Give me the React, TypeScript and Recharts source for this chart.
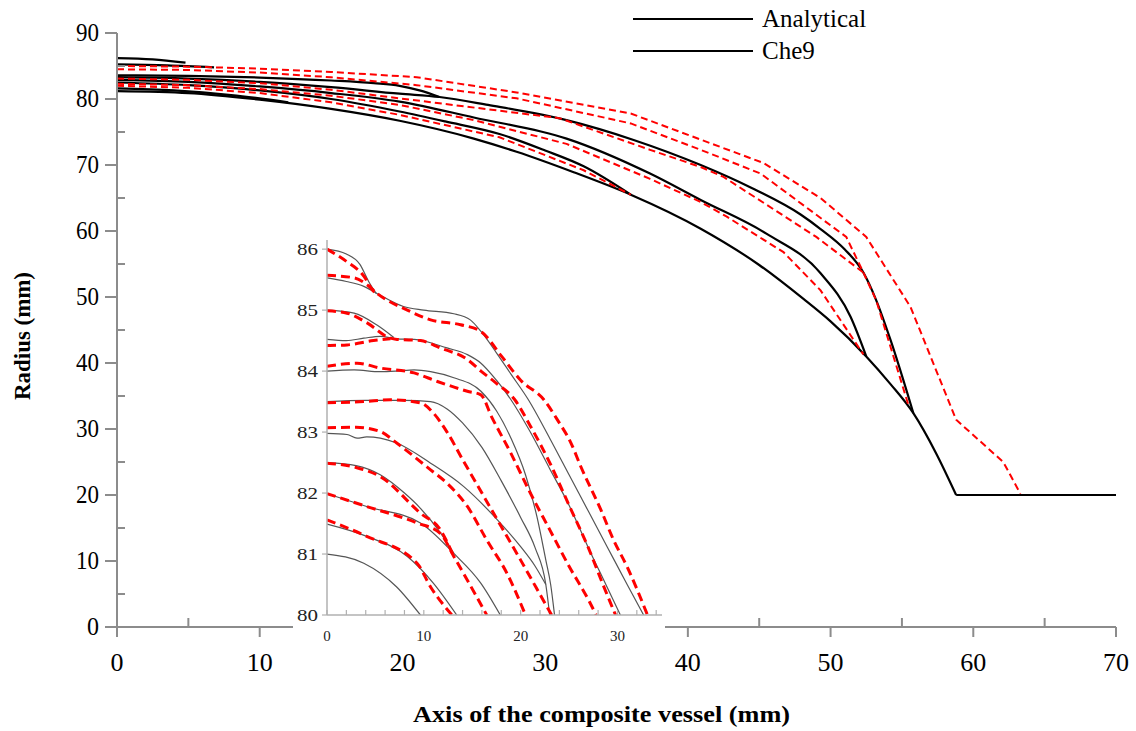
import React from 'react';
import { LineChart, Line, XAxis, YAxis, Legend } from 'recharts';

type P = [number, number];

// ---------- main chart data (axial position mm, radius mm) ----------
const anaTop1: P[] = [[0, 86.2], [2.5, 86.0], [4.8, 85.5]];
const anaTop2: P[] = [[0, 85.25], [3.5, 85.1], [6.8, 84.8]];
const anaA1: P[] = [[0, 83.6], [5, 83.5], [10, 83.25], [15, 82.8], [18, 82.4], [19.8, 82.0], [21.2, 81.3], [22.6, 80.3]];
const anaA2: P[] = [[0, 83.3], [5, 83.1], [10, 82.6], [15, 81.8], [19.8, 80.8], [22.6, 80.3], [26, 79.1], [31.5, 76.8], [36.2, 73.8], [40.9, 70.0], [44.4, 66.6], [47.9, 62.5], [49.3, 60.3], [51, 57.2], [52.3, 53.7], [53.2, 49.5], [54.2, 43.5], [55.8, 32.4]];
const anaB: P[] = [[0, 82.9], [5, 82.6], [10, 81.9], [15, 80.9], [19.8, 79.6], [25, 77.2], [31.5, 74.0], [37.35, 68.7], [40.9, 64.7], [45.5, 59.6], [49.3, 53.6], [51.4, 47.0], [52.5, 41.0]];
const anaC: P[] = [[0, 82.5], [5, 82.1], [10, 81.3], [15, 80.0], [19.8, 78.1], [23, 76.6], [26.8, 74.7], [30, 72.2], [32.7, 69.8], [36, 65.5]];
const anaE: P[] = [[0, 81.6], [4, 81.3], [8, 80.6], [12, 79.5]];
const anaMandrel: P[] = [[0, 81.2], [5, 80.9], [10, 79.9], [15, 78.5], [19.8, 76.7], [25, 74.0], [28, 72.0], [32, 68.9], [36, 65.5], [40.9, 60.35], [45, 54.85], [48.1, 49.7], [50, 46.3], [52.5, 41.0], [54.2, 36.8], [55.8, 32.4], [57.4, 26.3], [58.8, 20.0]];
const anaBoss: P[] = [[58.8, 20], [70, 20]];

const cheR1: P[] = [[0, 85.0], [5, 84.9], [10, 84.6], [15, 84.1], [21, 83.3], [28, 81.0], [36, 77.8], [45.3, 70.3], [49.3, 65.0], [52.5, 59.1], [55.6, 48.5], [58.8, 31.4], [62.1, 25.0], [63.3, 20.2]];
const cheR2: P[] = [[0, 84.5], [5, 84.4], [10, 84.0], [15, 83.3], [21, 82.1], [28, 80.1], [36, 76.3], [40.9, 72.3], [45.1, 68.7], [51.1, 59.1], [52.3, 53.7], [53.2, 49.5], [55.5, 33.3]];
const cheR3: P[] = [[0, 83.1], [5, 82.9], [10, 82.4], [15, 81.4], [19.8, 80.1], [31, 77.1], [37.35, 72.3], [40.9, 69.7], [42.5, 68.2], [49.0, 59.1], [52.3, 53.7]];
const cheR4: P[] = [[0, 82.3], [5, 82.1], [10, 81.5], [15, 80.5], [19.8, 79.1], [25, 76.8], [31.5, 73.2], [37.35, 67.9], [40.9, 64.4], [42.7, 62.2], [46.7, 56.8], [49.3, 51.0], [52.3, 41.3]];
const cheR5: P[] = [[0, 82.0], [5, 81.7], [10, 80.9], [15, 79.5], [19.8, 77.6], [26.8, 74.2], [32.7, 69.2], [36, 65.5]];

const mainXTicks = [0, 5, 10, 15, 20, 25, 30, 35, 40, 45, 50, 55, 60, 65, 70];
const mainYTicks = [0, 5, 10, 15, 20, 25, 30, 35, 40, 45, 50, 55, 60, 65, 70, 75, 80, 85, 90];

// ---------- inset data (zoomed region) ----------
const inK1: P[] = [[0, 86.0], [2, 85.92], [3.4, 85.75], [4.3, 85.47], [5.1, 85.27]];
const inK2: P[] = [[0, 85.53], [2, 85.47], [3.8, 85.39], [5.2, 85.27], [7.9, 85.06], [10, 85.0], [13.1, 84.94], [14.8, 84.84], [15.9, 84.65], [17.5, 84.3], [19, 83.95], [20.8, 83.53], [23, 82.9], [25, 82.3], [27, 81.7], [29, 81.1], [31, 80.5], [32.7, 80]];
const inK3: P[] = [[0, 85.0], [2.8, 84.95], [5.2, 84.75], [6.9, 84.55]];
const inK4: P[] = [[0, 84.52], [2, 84.5], [3.8, 84.54], [5.5, 84.57], [7.2, 84.53], [9, 84.52], [12.4, 84.38], [14.5, 84.27], [15.9, 84.13], [17.5, 83.85], [19, 83.53], [21, 83.0], [23, 82.4], [25, 81.8], [27, 81.1], [28.8, 80.5], [30.3, 80]];
const inK5: P[] = [[0, 84.0], [2.8, 84.02], [5.5, 83.99], [7.2, 84.0], [9, 84.02], [10.7, 83.99], [13.1, 83.89], [15.9, 83.67], [17.5, 83.35], [19, 82.9], [20.5, 82.3], [21.7, 81.6], [22.6, 80.9], [23.1, 80.5], [23.5, 80]];
const inK6: P[] = [[0, 83.5], [4, 83.52], [8, 83.52], [10.7, 83.5], [12.4, 83.38], [14, 83.15], [16, 82.75], [18, 82.2], [20, 81.6], [21.5, 81.1], [22.6, 80.5], [23.0, 80]];
const inK7: P[] = [[0, 82.98], [2.07, 82.96], [3.1, 82.9], [4.1, 82.92], [5.5, 82.9], [7.2, 82.82], [10.7, 82.49], [14.1, 82.11], [17.6, 81.56], [20.0, 81.12], [21.5, 80.8], [22.6, 80.5]];
const inK8: P[] = [[0, 82.5], [3, 82.45], [5.5, 82.3], [8, 82.0], [9.65, 81.75], [11.7, 81.35], [13.1, 81.01]];
const inK9: P[] = [[0, 81.99], [4.1, 81.78], [9.65, 81.51], [13.1, 81.01], [15.9, 80.52], [17.9, 80]];
const inK10: P[] = [[0, 81.49], [4.1, 81.29], [8.3, 80.96], [11.0, 80.52], [13.4, 80]];
const inK11: P[] = [[0, 81.0], [3.8, 80.85], [7.2, 80.46], [9.65, 80]];

const inR1: P[] = [[0, 86.0], [2, 85.8], [3.8, 85.56], [4.8, 85.31], [5.2, 85.27]];
const inR2: P[] = [[0, 85.57], [2.8, 85.53], [4.1, 85.42], [5.2, 85.27], [8.3, 85.0], [10.7, 84.84], [13.8, 84.76], [15.9, 84.65], [18, 84.25], [20, 83.85], [22.4, 83.53], [23.8, 83.2], [25.2, 82.82], [26.2, 82.44], [28.3, 81.72], [29.6, 81.23], [31.0, 80.79], [33.1, 80]];
const inR3: P[] = [[0, 84.99], [2.07, 84.95], [4.14, 84.79], [6.55, 84.54], [7.24, 84.52], [9.65, 84.5], [11.7, 84.38], [14.5, 84.19], [15.9, 84.0], [17.5, 83.8], [19.4, 83.53], [21, 83.1], [23, 82.5], [25, 81.8], [27, 81.1], [28.5, 80.5], [29.8, 80]];
const inR4: P[] = [[0, 84.42], [2.07, 84.43], [4.8, 84.5], [6.55, 84.53]];
const inR5: P[] = [[0, 84.08], [3.1, 84.13], [5.5, 84.05], [9.0, 83.97], [11.4, 83.83], [14.5, 83.67], [15.9, 83.61], [17, 83.25], [19, 82.65], [21, 82.0], [23, 81.4], [25, 80.8], [27, 80.25], [27.8, 80]];
const inR6: P[] = [[0, 83.48], [3.8, 83.5], [6.55, 83.53], [9.65, 83.48], [11.0, 83.31], [12.4, 83.0], [14, 82.55], [16, 82.0], [18, 81.45], [20, 80.9], [21.6, 80.45], [23.2, 80]];
const inR7: P[] = [[0, 83.07], [3, 83.08], [5.5, 83.01], [7.2, 82.82], [10.7, 82.38], [12.4, 82.16], [14.5, 81.78], [16.5, 81.23], [18.6, 80.68], [20.5, 80]];
const inR8: P[] = [[0, 82.49], [3, 82.42], [5.5, 82.27], [9.65, 81.67], [11.7, 81.40], [13.1, 80.96]];
const inR9: P[] = [[0, 81.99], [4.1, 81.78], [9.3, 81.51], [11.7, 81.34], [13.1, 80.96], [14.5, 80.57], [16.5, 80]];
const inR10: P[] = [[0, 81.56], [4.1, 81.29], [9.3, 80.85], [10.7, 80.46], [12.9, 80]];

const insetXTicks = [0, 2, 4, 6, 8, 10, 12, 14, 16, 18, 20, 22, 24, 26, 28, 30, 32, 34];
const insetXLabels = [0, 10, 20, 30];
const insetYTicks = [80, 81, 82, 83, 84, 85, 86];

const legendItems = ['Analytical', 'Che9'];
const xTitle = 'Axis of the composite vessel (mm)';
const yTitle = 'Radius (mm)';

const toData = (pts: P[]) => pts.map(([x, y]) => ({ x, y }));

const mainBlack = [anaTop1, anaTop2, anaA1, anaA2, anaB, anaC, anaE, anaMandrel, anaBoss];
const mainRed = [cheR1, cheR2, cheR3, cheR4, cheR5];
const insetBlack = [inK1, inK2, inK3, inK4, inK5, inK6, inK7, inK8, inK9, inK10, inK11];
const insetRed = [inR1, inR2, inR3, inR4, inR5, inR6, inR7, inR8, inR9, inR10];

const AXIS = '#8c8c8c';
const SERIF = '"Liberation Serif", "Times New Roman", serif';

const MainXTick = (props: any) => {
  const { x, y, payload } = props;
  const v = payload.value as number;
  const major = v % 10 === 0;
  return (
    <g>
      <line x1={x} x2={x} y1={y} y2={major ? y + 10 : y - 9} stroke={AXIS} strokeWidth={2} />
      {major && (
        <text x={x} y={y + 44} textAnchor="middle" fontFamily={SERIF} fontSize={25} fill="#000" textLength={v < 10 ? 13 : 26} lengthAdjust="spacingAndGlyphs">
          {v}
        </text>
      )}
    </g>
  );
};

const MainYTick = (props: any) => {
  const { x, y, payload } = props;
  const v = payload.value as number;
  const major = v % 10 === 0;
  return (
    <g>
      <line x1={major ? x - 12 : x} x2={major ? x : x + 8} y1={y} y2={y} stroke={AXIS} strokeWidth={2} />
      {major && (
        <text x={x - 18} y={y + 8} textAnchor="end" fontFamily={SERIF} fontSize={25} fill="#000" textLength={v < 10 ? 12 : 23} lengthAdjust="spacingAndGlyphs">
          {v}
        </text>
      )}
    </g>
  );
};

const XTitle = (props: any) => {
  const vb = props.viewBox || { x: 117, y: 627, width: 999, height: 60 };
  return (
    <text x={vb.x + vb.width / 2 - 15} y={vb.y + 95} textAnchor="middle" fontFamily={SERIF} fontSize={23} fontWeight="bold" fill="#000" textLength={377} lengthAdjust="spacingAndGlyphs">
      {xTitle}
    </text>
  );
};

const YTitle = (props: any) => {
  const vb = props.viewBox || { x: 57, y: 33, width: 60, height: 594 };
  const cx = 30;
  const cy = vb.y + vb.height / 2 + 6;
  return (
    <text x={cx} y={cy} transform={`rotate(-90 ${cx} ${cy})`} textAnchor="middle" fontFamily={SERIF} fontSize={23} fontWeight="bold" fill="#000" textLength={128} lengthAdjust="spacingAndGlyphs">
      {yTitle}
    </text>
  );
};

const InsetXTick = (props: any) => {
  const { x, y, payload } = props;
  const v = payload.value as number;
  const labelled = insetXLabels.includes(v);
  return (
    <g>
      <line x1={x} x2={x} y1={y} y2={y - 5} stroke="#b0b0b0" strokeWidth={1.2} />
      {labelled && (
        <text x={x} y={y + 26} textAnchor="middle" fontFamily={SERIF} fontSize={15} fill="#222">
          {v}
        </text>
      )}
    </g>
  );
};

const InsetYTick = (props: any) => {
  const { x, y, payload } = props;
  const v = payload.value as number;
  return (
    <g>
      <line x1={x - 5} x2={x} y1={y} y2={y} stroke="#b0b0b0" strokeWidth={1.2} />
      <text x={x - 9} y={y + 6} textAnchor="end" fontFamily={SERIF} fontSize={17} fill="#222" textLength={21} lengthAdjust="spacingAndGlyphs">
        {v}
      </text>
    </g>
  );
};

const LegendBox = () => (
  <svg width={260} height={60}>
    {legendItems.map((name, i) => (
      <g key={name}>
        <line x1={3} x2={123} y1={15 + i * 32} y2={15 + i * 32} stroke="#000" strokeWidth={2} />
        <text x={132} y={23 + i * 32} fontFamily={SERIF} fontSize={25} fill="#000">
          {name}
        </text>
      </g>
    ))}
  </svg>
);

export default function App() {
  return (
    <div style={{ position: 'absolute', left: 0, top: 0, width: 1136, height: 731, background: '#fff' }}>
      <LineChart width={1136} height={731} margin={{ top: 33, right: 20, bottom: 44, left: 57 }}>
        <XAxis
          type="number"
          dataKey="x"
          domain={[0, 70]}
          ticks={mainXTicks}
          interval={0}
          tick={<MainXTick />}
          tickLine={false}
          tickSize={0}
          tickMargin={0}
          axisLine={{ stroke: AXIS, strokeWidth: 2 }}
          height={60}
          allowDataOverflow
          label={<XTitle />}
        />
        <YAxis
          type="number"
          dataKey="y"
          domain={[0, 90]}
          ticks={mainYTicks}
          interval={0}
          tick={<MainYTick />}
          tickLine={false}
          tickSize={0}
          tickMargin={0}
          axisLine={{ stroke: AXIS, strokeWidth: 2 }}
          width={60}
          allowDataOverflow
          label={<YTitle />}
        />
        <Legend
          content={<LegendBox />}
          layout="horizontal"
          verticalAlign="middle"
          align="center"
          wrapperStyle={{ left: 630, top: 4, width: 260, height: 60 }}
        />
        {mainBlack.map((pts, i) => (
          <Line
            key={`b${i}`}
            data={toData(pts)}
            dataKey="y"
            type="monotone"
            stroke="#000"
            strokeWidth={2.2}
            dot={false}
            isAnimationActive={false}
            legendType="none"
          />
        ))}
        {mainRed.map((pts, i) => (
          <Line
            key={`r${i}`}
            data={toData(pts)}
            dataKey="y"
            type="linear"
            stroke="#ff0000"
            strokeWidth={2}
            strokeDasharray="7 4"
            dot={false}
            isAnimationActive={false}
            legendType="none"
          />
        ))}
      </LineChart>

      <div style={{ position: 'absolute', left: 293, top: 237, width: 372, height: 408, background: '#fff' }}>
        <LineChart width={372} height={408} margin={{ top: 3, right: 3, bottom: 0, left: 0 }}>
          <XAxis
            type="number"
            dataKey="x"
            domain={[0, 34.6]}
            ticks={insetXTicks}
            interval={0}
            tick={<InsetXTick />}
            tickLine={false}
            tickSize={0}
            tickMargin={0}
            axisLine={{ stroke: '#b0b0b0', strokeWidth: 1.5 }}
            height={30}
            allowDataOverflow
          />
          <YAxis
            type="number"
            dataKey="y"
            domain={[80, 86.15]}
            ticks={insetYTicks}
            interval={0}
            tick={<InsetYTick />}
            tickLine={false}
            tickSize={0}
            tickMargin={0}
            axisLine={{ stroke: '#b0b0b0', strokeWidth: 1.5 }}
            width={34}
            allowDataOverflow
          />
          {insetBlack.map((pts, i) => (
            <Line
              key={`ib${i}`}
              data={toData(pts)}
              dataKey="y"
              type="monotone"
              stroke="#555"
              strokeWidth={1.2}
              dot={false}
              isAnimationActive={false}
              legendType="none"
            />
          ))}
          {insetRed.map((pts, i) => (
            <Line
              key={`ir${i}`}
              data={toData(pts)}
              dataKey="y"
              type="monotone"
              stroke="#ff0000"
              strokeWidth={3}
              strokeDasharray="9 5"
              dot={false}
              isAnimationActive={false}
              legendType="none"
            />
          ))}
        </LineChart>
      </div>
    </div>
  );
}
